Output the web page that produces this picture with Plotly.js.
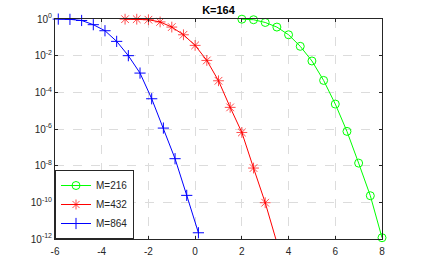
<!DOCTYPE html>
<html>
<head>
<meta charset="utf-8">
<script src="https://cdn.plot.ly/plotly-3.0.1.min.js"></script>
<style>html,body{margin:0;padding:0;background:#fff;}#chart{width:422px;height:268px;}</style>
</head>
<body>
<div id="chart"></div>
<script>
// Data (y given as log10 exponents)
var xGreen = [2.0, 2.5, 3.0, 3.5, 4.0, 4.5, 5.0, 5.5, 6.0, 6.5, 7.0, 7.5, 8.0];
var yGreenExp = [-0.01, -0.04, -0.19, -0.44, -0.86, -1.49, -2.29, -3.35, -4.64, -6.13, -7.86, -9.64, -11.93];

var xRed = [-3.0, -2.5, -2.0, -1.5, -1.0, -0.5, 0.0, 0.5, 1.0, 1.5, 2.0, 2.5, 3.0, 3.5];
var yRedExp = [-0.01, -0.01, -0.04, -0.16, -0.44, -0.86, -1.44, -2.26, -3.37, -4.82, -6.19, -8.13, -10.02, -12.2];

var xBlue = [-5.86, -5.36, -4.86, -4.36, -3.86, -3.36, -2.86, -2.36, -1.86, -1.36, -0.86, -0.36, 0.14];
var yBlueExp = [-0.005, -0.02, -0.08, -0.31, -0.64, -1.22, -2.0, -2.95, -4.35, -5.95, -7.62, -9.62, -11.66];

var seriesNames = ['M=216', 'M=432', 'M=864'];
var titleText = 'K=164';
var xTicks = [-6, -4, -2, 0, 2, 4, 6, 8];
var yTickExps = [0, -2, -4, -6, -8, -10, -12];

function toVal(arr){ return arr.map(function(e){ return Math.pow(10, e); }); }

// red: hide marker of last (clipped) point
var redSizes = xRed.map(function(x, i){ return i === xRed.length - 1 ? 0 : 9; });

var traces = [
  {x: xGreen, y: toVal(yGreenExp), name: seriesNames[0], mode: 'lines+markers', cliponaxis: false,
   line: {color: '#00ff00', width: 1}, marker: {symbol: 'circle-open', size: 8, color: '#00ff00', line: {width: 1, color: '#00ff00'}}},
  {x: xRed, y: toVal(yRedExp), name: seriesNames[1], mode: 'lines+markers', cliponaxis: false,
   line: {color: '#ff0000', width: 1}, marker: {symbol: 'asterisk-open', size: redSizes, color: '#ff0000', line: {width: 1, color: '#ff0000'}}},
  {x: xBlue, y: toVal(yBlueExp), name: seriesNames[2], mode: 'lines+markers', cliponaxis: false,
   line: {color: '#0000ff', width: 1}, marker: {symbol: 'cross-thin-open', size: 8, color: '#0000ff', line: {width: 1, color: '#0000ff'}}}
];

var axisColor = '#262626';
var layout = {
  width: 422, height: 268,
  margin: {l: 55, r: 40, t: 19, b: 29, pad: 0},
  paper_bgcolor: '#ffffff', plot_bgcolor: '#ffffff',
  font: {family: 'Liberation Sans, Arial, sans-serif', size: 10, color: axisColor},
  title: {text: '<b>' + titleText + '</b>', font: {size: 11, color: '#000'}, x: 0.5, xref: 'paper', xanchor: 'center', y: 0.975, yref: 'container', yanchor: 'top'},
  showlegend: true,
  legend: {x: 0, y: 0, xanchor: 'left', yanchor: 'bottom', bgcolor: '#ffffff', bordercolor: axisColor, borderwidth: 1,
           font: {size: 10, color: axisColor}, tracegroupgap: 0, itemwidth: 30},
  xaxis: {range: [-6, 8], tickvals: xTicks, ticktext: xTicks.map(String), ticks: 'inside', ticklen: 3, tickcolor: axisColor,
          showline: true, linecolor: axisColor, linewidth: 1, mirror: 'ticks', showgrid: true, gridcolor: '#dcdcdc', griddash: 'dash', gridwidth: 1,
          zeroline: false, tickfont: {size: 10, color: axisColor}, ticklabelstandoff: 3},
  yaxis: {type: 'log', range: [-12, 0], tickvals: yTickExps.map(function(e){return Math.pow(10, e);}),
          ticktext: yTickExps.map(function(e){ return '10<sup>' + e + '</sup>'; }),
          ticks: 'inside', ticklen: 3, tickcolor: axisColor,
          showline: true, linecolor: axisColor, linewidth: 1, mirror: 'ticks', showgrid: true, gridcolor: '#dcdcdc', griddash: 'dash', gridwidth: 1,
          zeroline: false, tickfont: {size: 10, color: axisColor}}
};

Plotly.newPlot('chart', traces, layout, {displayModeBar: false, staticPlot: true});
</script>
</body>
</html>
